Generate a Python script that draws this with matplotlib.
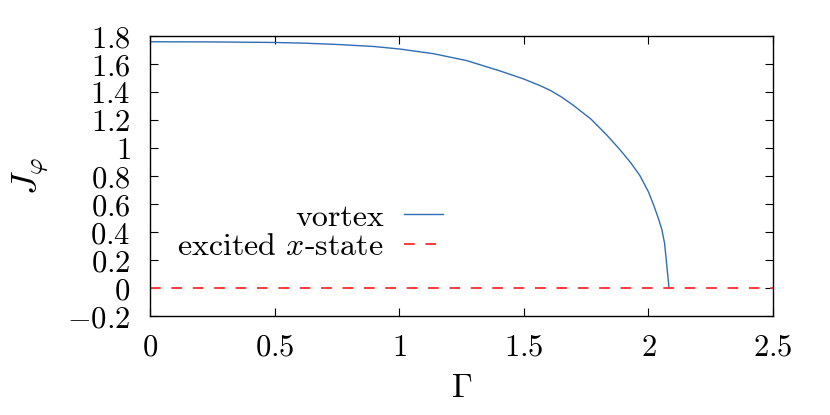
import matplotlib
matplotlib.use('Agg')
import matplotlib.pyplot as plt
from matplotlib.ticker import FuncFormatter, MultipleLocator

plt.rcParams['font.family'] = 'serif'
plt.rcParams['font.serif'] = ['cmr10']
plt.rcParams['mathtext.fontset'] = 'cm'
plt.rcParams['axes.unicode_minus'] = True

# vortex branch
gamma_vortex = [0.0, 0.25, 0.5, 0.62, 0.762, 0.9, 1.003, 1.137, 1.27, 1.404,
                1.5, 1.565, 1.605, 1.65, 1.699, 1.77, 1.833, 1.886, 1.93, 1.966,
                2.0, 2.02, 2.04, 2.054, 2.065, 2.083]
j_vortex = [1.761, 1.760, 1.756, 1.751, 1.741, 1.727, 1.709, 1.676, 1.627, 1.553,
            1.495, 1.448, 1.415, 1.368, 1.307, 1.208, 1.095, 0.990, 0.895, 0.805,
            0.690, 0.600, 0.500, 0.420, 0.322, 0.0]

# excited x-state
gamma_x = [0.0, 2.5]
j_x = [0.0, 0.0]

x_ticks = [0, 0.5, 1, 1.5, 2, 2.5]

fig = plt.figure(figsize=(8.3, 4.15), dpi=100)
ax = fig.add_axes([0.1807, 0.2378, 0.7506, 0.6747])

ax.plot(gamma_vortex, j_vortex, color='#2f6db5', lw=1.0, label='vortex')
ax.plot(gamma_x, j_x, color='#ff3b3b', lw=1.4, dashes=(5.5, 5.5),
        label='excited $x$-state')

ax.set_xlim(0, 2.5)
ax.set_ylim(-0.2, 1.8)
ax.set_xticks(x_ticks)
ax.yaxis.set_major_locator(MultipleLocator(0.2))
fmt = FuncFormatter(lambda v, p: '$%g$' % round(v, 2))
ax.xaxis.set_major_formatter(fmt)
ax.yaxis.set_major_formatter(fmt)

ax.tick_params(direction='in', length=6, width=0.8, top=True, right=True,
               labelsize=22)
ax.tick_params(axis='y', pad=14)
ax.tick_params(axis='x', pad=13)
for s in ax.spines.values():
    s.set_linewidth(1.0)

ax.set_xlabel(r'$\Gamma$', fontsize=24, labelpad=9)
ax.set_ylabel(r'$J_\varphi$', fontsize=26, labelpad=12)

ax.legend(loc='center right', bbox_to_anchor=(0.47, 0.30), frameon=False,
          markerfirst=False, fontsize=23, handlelength=1.2, handletextpad=0.65,
          labelspacing=0.05, borderpad=0, borderaxespad=0)

fig.savefig('out.png', dpi=100)
